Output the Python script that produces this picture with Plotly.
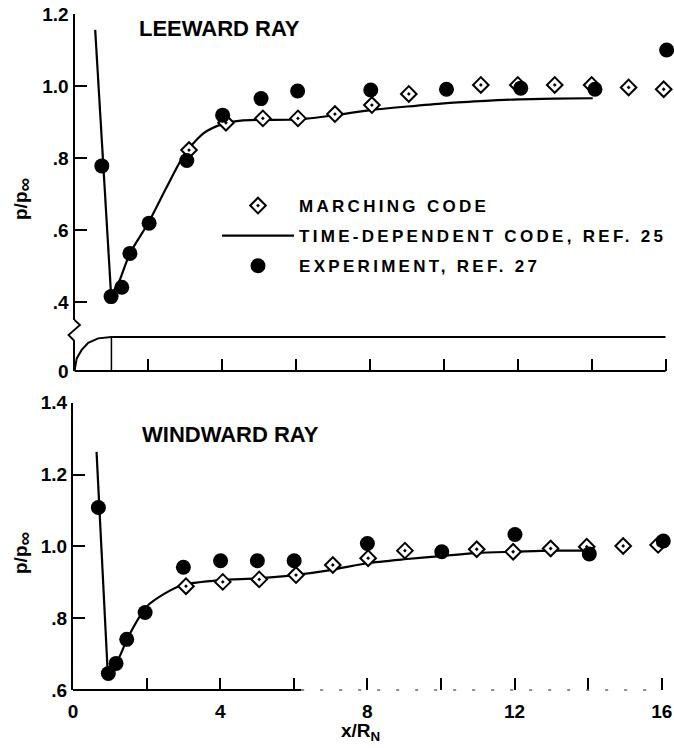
import plotly.graph_objects as go

# ---------------- data ----------------
# Leeward ray
lee_march_x = [3.1, 4.1, 5.1, 6.05, 7.05, 8.05, 9.05, 11.0, 12.0, 13.0, 14.0, 15.0, 15.95]
lee_march_y = [0.822, 0.898, 0.910, 0.910, 0.922, 0.947, 0.978, 1.003, 1.003, 1.003, 1.003, 0.996, 0.991]
lee_exp_x = [0.74, 0.99, 1.28, 1.50, 2.02, 3.04, 4.01, 5.05, 6.04, 8.02, 10.07, 12.08, 14.09, 16.03]
lee_exp_y = [0.778, 0.415, 0.441, 0.535, 0.619, 0.793, 0.919, 0.965, 0.986, 0.989, 0.991, 0.994, 0.991, 1.10]
lee_time_x = [0.56, 0.99, 1.2, 1.5, 2.0, 2.5, 3.0, 3.5, 4.0, 4.5, 5.0, 6.0, 7.0, 8.0, 9.0, 10.0, 11.0, 12.0, 13.0, 14.03]
lee_time_y = [1.156, 0.42, 0.455, 0.535, 0.62, 0.72, 0.814, 0.869, 0.894, 0.904, 0.906, 0.907, 0.918, 0.933,
              0.943, 0.952, 0.958, 0.963, 0.965, 0.966]

# Windward ray
wind_march_x = [3.07, 4.07, 5.06, 6.06, 7.06, 8.02, 9.02, 10.97, 11.96, 12.98, 13.96, 14.95, 15.9]
wind_march_y = [0.889, 0.901, 0.908, 0.920, 0.948, 0.967, 0.988, 0.992, 0.985, 0.994, 0.999, 1.001, 1.004]
wind_exp_x = [0.69, 0.96, 1.17, 1.46, 1.96, 3.0, 4.01, 5.01, 6.01, 8.0, 10.02, 12.01, 14.03, 16.04]
wind_exp_y = [1.108, 0.646, 0.674, 0.741, 0.816, 0.942, 0.960, 0.960, 0.960, 1.008, 0.985, 1.033, 0.979, 1.015]
wind_time_x = [0.64, 0.94, 1.2, 1.5, 2.0, 2.5, 3.0, 4.0, 5.0, 6.0, 7.0, 8.0, 9.0, 10.0, 11.0, 12.0, 13.0, 14.0]
wind_time_y = [1.263, 0.655, 0.68, 0.748, 0.832, 0.869, 0.893, 0.906, 0.911, 0.92, 0.934, 0.953, 0.964, 0.973,
               0.982, 0.985, 0.988, 0.988]

# Body sketch (hemisphere-cylinder, radius in nose radii)
body_x = [0, 0.06, 0.195, 0.37, 0.64, 0.92, 1.0, 16.0]
body_r = [0, 0.37, 0.62, 0.83, 0.96, 0.99, 1.0, 1.0]
shoulder_x = [1.0, 1.0]
shoulder_r = [0.0, 1.0]

# tick labels
x_ticks_top = [2, 4, 6, 8, 10, 12, 14, 16]
x_ticks_bot = [0, 4, 8, 12, 16]
x_text_bot = ["0", "4", "8", "12", "16"]
y_ticks_bot = [0.6, 0.8, 1.0, 1.2, 1.4]
y_text_bot = [".6", ".8", "1.0", "1.2", "1.4"]

# ---------------- layout helpers ----------------
W, H = 674, 748
FONT = "Liberation Sans, Arial, Helvetica, sans-serif"


def fx(p):
    return p / W


def fy(p):
    return 1 - p / H


TOP_Y0 = 1.2 - 357 / 360  # axis origin (broken axis "0")
y_ticks_top = [TOP_Y0, 0.4, 0.6, 0.8, 1.0, 1.2]
y_text_top = ["0", ".4", ".6", ".8", "1.0", "1.2"]

XMAX = 16.1
TOP_UNIT = 36.94
BOT_UNIT = 36.8


def sp(s, ls=3.3):
    return '<span style="letter-spacing:%.1fpx">%s</span>' % (ls, s)


fig = go.Figure()

LW = 2.2
diamond = dict(symbol="diamond-dot", size=12, color="white", line=dict(color="black", width=2))
circle = dict(symbol="circle", size=15, color="black", line=dict(width=0))
curve = dict(color="black", width=LW, shape="spline", smoothing=0.7)
steep = dict(color="black", width=LW)

# top panel
fig.add_trace(go.Scatter(x=body_x, y=body_r, xaxis="x", yaxis="y3", mode="lines",
                         line=dict(color="black", width=2), showlegend=False, hoverinfo="skip"))
fig.add_trace(go.Scatter(x=shoulder_x, y=shoulder_r, xaxis="x", yaxis="y3", mode="lines",
                         line=dict(color="black", width=1.5), showlegend=False, hoverinfo="skip"))
fig.add_trace(go.Scatter(x=lee_time_x[:2], y=lee_time_y[:2], xaxis="x", yaxis="y", mode="lines",
                         line=steep, showlegend=False, cliponaxis=False))
fig.add_trace(go.Scatter(x=lee_time_x[1:], y=lee_time_y[1:], xaxis="x", yaxis="y", mode="lines",
                         line=curve, name=sp("TIME-DEPENDENT CODE, REF. 25"),
                         legendrank=2, legendgroup="b", cliponaxis=False))
fig.add_trace(go.Scatter(x=lee_march_x, y=lee_march_y, xaxis="x", yaxis="y", mode="markers",
                         marker=diamond, name=sp("MARCHING CODE"), legendrank=1, legendgroup="a",
                         cliponaxis=False))
fig.add_trace(go.Scatter(x=lee_exp_x, y=lee_exp_y, xaxis="x", yaxis="y", mode="markers",
                         marker=circle, name=sp("EXPERIMENT, REF. 27"), legendrank=3, legendgroup="c",
                         cliponaxis=False))

# bottom panel
fig.add_trace(go.Scatter(x=wind_time_x[:2], y=wind_time_y[:2], xaxis="x2", yaxis="y2", mode="lines",
                         line=steep, showlegend=False, cliponaxis=False))
fig.add_trace(go.Scatter(x=wind_time_x[1:], y=wind_time_y[1:], xaxis="x2", yaxis="y2", mode="lines",
                         line=curve, showlegend=False, cliponaxis=False))
fig.add_trace(go.Scatter(x=wind_march_x, y=wind_march_y, xaxis="x2", yaxis="y2", mode="markers",
                         marker=diamond, showlegend=False, cliponaxis=False))
fig.add_trace(go.Scatter(x=wind_exp_x, y=wind_exp_y, xaxis="x2", yaxis="y2", mode="markers",
                         marker=circle, showlegend=False, cliponaxis=False))

tickfont = dict(family=FONT, size=19, color="black", weight="bold")
common = dict(showgrid=False, zeroline=False, ticks="inside", ticklen=12, tickwidth=1.5,
              tickcolor="black", tickfont=tickfont)

fig.update_layout(
    width=W, height=H, margin=dict(l=0, r=0, t=0, b=0, autoexpand=False),
    paper_bgcolor="white", plot_bgcolor="white",
    font=dict(family=FONT, color="black"),
    xaxis=dict(domain=[fx(74.5), fx(74.5 + XMAX * TOP_UNIT)], range=[0, XMAX], anchor="y", showline=False,
               tickvals=x_ticks_top, showticklabels=False, **common),
    yaxis=dict(domain=[fy(371), fy(14)], range=[TOP_Y0, 1.2], anchor="x", showline=True, linewidth=2,
               linecolor="black", tickvals=y_ticks_top, ticktext=y_text_top, **common),
    yaxis3=dict(overlaying="y", anchor="x", range=[0, 10.5], visible=False),
    xaxis2=dict(domain=[fx(73), fx(73 + XMAX * BOT_UNIT)], range=[0, XMAX], anchor="y2", showline=False,
                tickvals=x_ticks_bot, ticktext=x_text_bot, ticklabelstandoff=8,
                minor=dict(ticks="inside", ticklen=12, tickwidth=1.5, tickcolor="black", dtick=2, tick0=0),
                **common),
    yaxis2=dict(domain=[fy(690), fy(402.7)], range=[0.6, 1.4], anchor="x2", showline=True, linewidth=2,
                linecolor="black", tickvals=y_ticks_bot, ticktext=y_text_bot, **common),
    legend=dict(x=fx(217), y=fy(188), xanchor="left", yanchor="top", itemwidth=72,
                tracegroupgap=5, bgcolor="rgba(0,0,0,0)",
                font=dict(family=FONT, size=17, color="black", weight="bold")),
    showlegend=True,
)

# x axis lines (top one ends at x=16; bottom one partly faded in the original print)
fig.add_shape(type="line", xref="x", yref="y domain", x0=0, x1=16, y0=0, y1=0,
              line=dict(color="black", width=2))
fig.add_shape(type="line", xref="x2", yref="y2 domain", x0=0, x1=6.2, y0=0, y1=0,
              line=dict(color="black", width=2))
fig.add_shape(type="line", xref="x2", yref="y2 domain", x0=6.2, x1=16, y0=0, y1=0,
              line=dict(color="#666666", width=1.5, dash="3px,16px"))

# axis break on the top y axis
fig.add_shape(type="rect", xref="paper", yref="paper", x0=fx(71), x1=fx(78), y0=fy(341), y1=fy(320),
              line=dict(width=0), fillcolor="white", layer="above")
zz = [(74.5, 320), (80, 325), (68.5, 335), (74.5, 341)]
path = "M " + " L ".join("%.5f,%.5f" % (fx(a), fy(b)) for a, b in zz)
fig.add_shape(type="path", xref="paper", yref="paper", path=path,
              line=dict(color="black", width=1.8), layer="above")

ann_font = dict(family=FONT, size=22, color="black", weight="bold")
lab_font = dict(family=FONT, size=19, color="black", weight="bold")
fig.add_annotation(text="LEEWARD RAY", x=fx(137), y=fy(28), xref="paper", yref="paper",
                   xanchor="left", yanchor="middle", showarrow=False, font=ann_font)
fig.add_annotation(text="WINDWARD RAY", x=fx(140), y=fy(434), xref="paper", yref="paper",
                   xanchor="left", yanchor="middle", showarrow=False, font=ann_font)
for yc in (199, 553):
    fig.add_annotation(text='p/p<sub><span style="font-size:19px">∞</span></sub>', x=fx(22), y=fy(yc),
                       xref="paper", yref="paper", xanchor="center", yanchor="middle", textangle=-90,
                       showarrow=False, font=lab_font)
fig.add_annotation(text="x/R<sub>N</sub>", x=fx(339), y=fy(732), xref="paper", yref="paper",
                   xanchor="left", yanchor="middle", showarrow=False, font=lab_font)

fig.write_html("out.html")
